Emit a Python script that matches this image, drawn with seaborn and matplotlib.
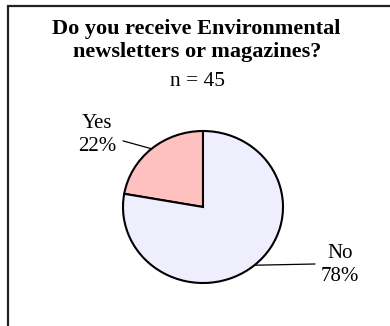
import numpy as np
import matplotlib
matplotlib.use("Agg")
import matplotlib.pyplot as plt
import seaborn as sns
from matplotlib.patches import Rectangle

# ---- data ----
categories = ["Yes", "No"]
counts = [10, 35]
colors = ["#FFC0C0", "#EEEEFC"]
title_lines = ["Do you receive Environmental", "newsletters or magazines?"]
subtitle = "n = 45"

sns.set_theme(style="white")
plt.rcParams["font.family"] = ["Liberation Serif", "DejaVu Serif"]

W, H, DPI = 390, 326, 100
fig = plt.figure(figsize=(W / DPI, H / DPI), dpi=DPI)
fig.patch.set_facecolor("white")

# outer frame (only top and left visible)
fig.add_artist(Rectangle((8 / W, -0.2), 1.2, 1 - 6 / H + 0.2,
                         transform=fig.transFigure, fill=False,
                         edgecolor="#222222", linewidth=1.6, clip_on=False))

# title
fig.text(196 / W, 1 - 29 / H, title_lines[0], ha="center", va="center",
         fontsize=16, fontweight="bold", color="black")
fig.text(197 / W, 1 - 52 / H, title_lines[1], ha="center", va="center",
         fontsize=16, fontweight="bold", color="black")
fig.text(197 / W, 1 - 81 / H, subtitle, ha="center", va="center",
         fontsize=15.5, color="black")

# pie axes (pixel box: x 123..283, y 131..283)
ax = fig.add_axes([123 / W, 1 - 283 / H, 160 / W, 152 / H])
wedges, _ = ax.pie(counts, colors=colors, startangle=90, counterclock=True,
                   radius=1.0,
                   wedgeprops=dict(edgecolor="black", linewidth=1.5))
ax.set_aspect("auto")
ax.set_xlim(-1, 1)
ax.set_ylim(-1, 1)
ax.axis("off")

total = sum(counts)
label_text_pos = {"Yes": (-1.32, 0.95), "No": (1.71, -0.76)}
leader_end = {"Yes": (-1.0, 0.87), "No": (1.40, -0.75)}
for w, cat, v in zip(wedges, categories, counts):
    mid = np.deg2rad((w.theta1 + w.theta2) / 2)
    sx, sy = np.cos(mid), np.sin(mid)
    ex, ey = leader_end[cat]
    ax.plot([sx, ex], [sy, ey], color="black", lw=0.9, clip_on=False)
    tx, ty = label_text_pos[cat]
    ax.text(tx, ty, f"{cat}\n{round(100 * v / total)}%", ha="center",
            va="center", fontsize=15, color="black", linespacing=1.3,
            clip_on=False)

fig.savefig("out.png", dpi=DPI, facecolor="white")
